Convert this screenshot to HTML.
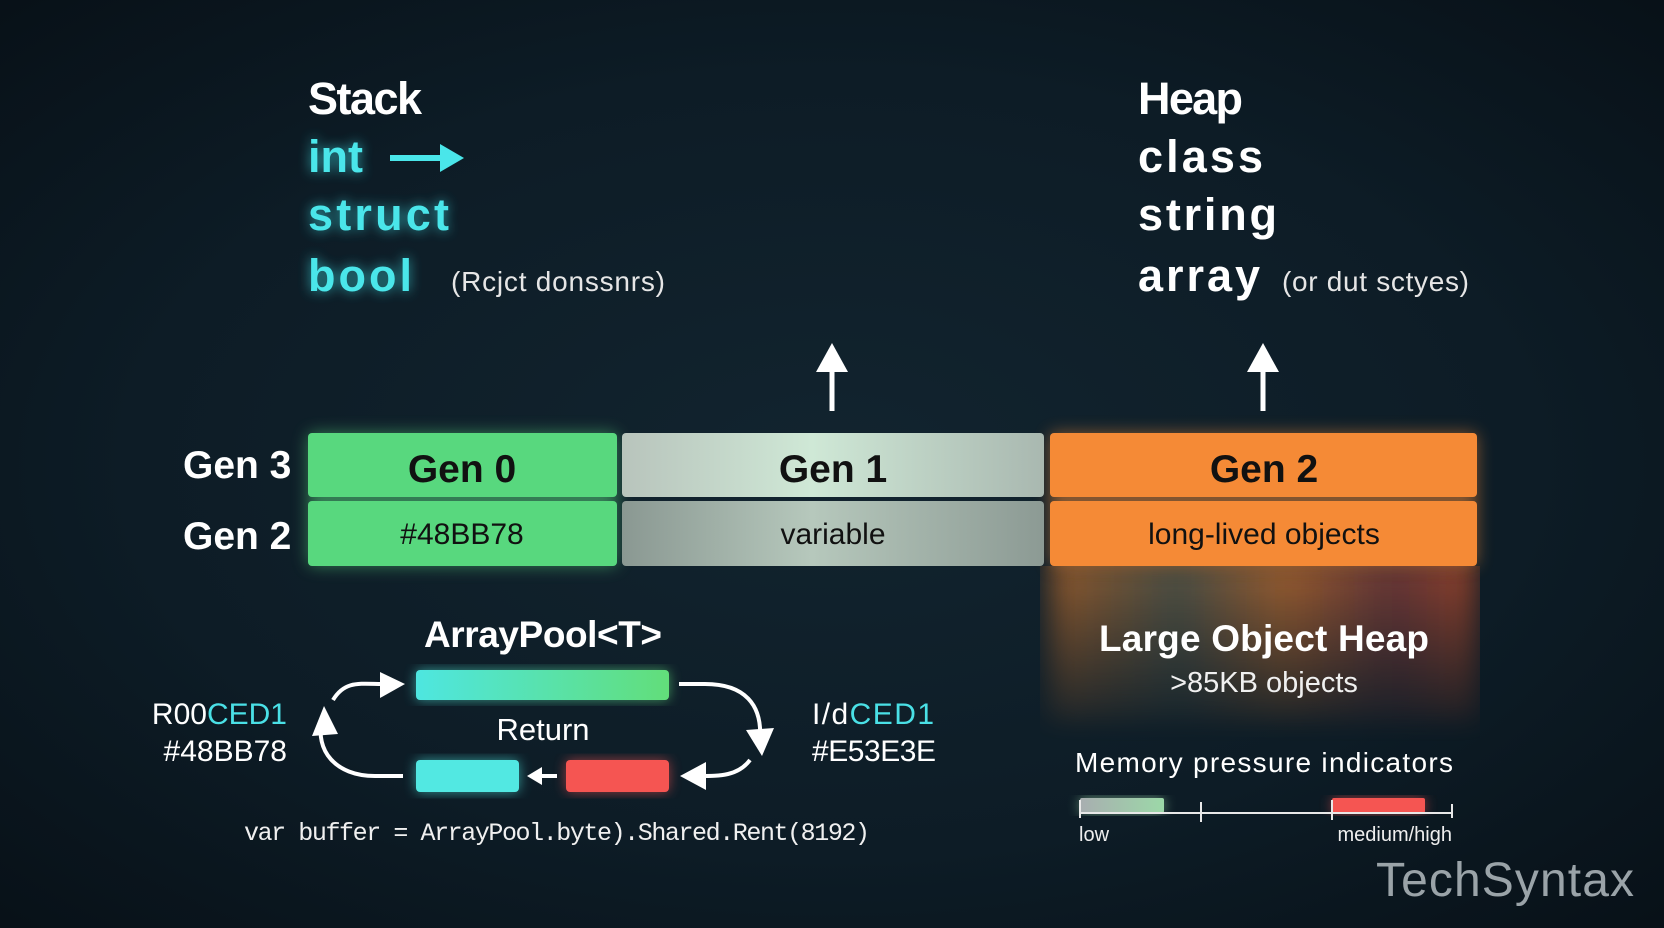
<!DOCTYPE html>
<html><head><meta charset="utf-8"><style>
html,body{margin:0;padding:0;background:#0c1a24;}
body{width:1664px;height:928px;overflow:hidden;}
svg{display:block}
.s{font-family:"Liberation Sans",sans-serif;}
.m{font-family:"Liberation Mono",monospace;}
</style></head><body>
<svg width="1664" height="928" viewBox="0 0 1664 928" xmlns="http://www.w3.org/2000/svg">
<defs>
<radialGradient id="bg" cx="50%" cy="50%" r="70%">
<stop offset="0" stop-color="#12242f"/><stop offset="0.6" stop-color="#0d1c26"/><stop offset="1" stop-color="#081118"/>
</radialGradient>
<linearGradient id="g1" x1="0" x2="1"><stop offset="0" stop-color="#b8c4bc"/><stop offset="0.45" stop-color="#cfe8d6"/><stop offset="1" stop-color="#a9b8b0"/></linearGradient>
<linearGradient id="g1b" x1="0" x2="1"><stop offset="0" stop-color="#8a9892"/><stop offset="0.45" stop-color="#b6c8bc"/><stop offset="1" stop-color="#8c9a94"/></linearGradient>
<linearGradient id="pool" x1="0" x2="1"><stop offset="0" stop-color="#4ee6e0"/><stop offset="1" stop-color="#62de7a"/></linearGradient>
<linearGradient id="loh" x1="0" x2="1"><stop offset="0" stop-color="#b0652a"/><stop offset="0.3" stop-color="#5a5a4a"/><stop offset="0.55" stop-color="#b86a30"/><stop offset="0.8" stop-color="#7a3b3a"/><stop offset="1" stop-color="#b04a2a"/></linearGradient>
<linearGradient id="lohv" x1="0" y1="0" x2="0" y2="1"><stop offset="0" stop-color="#fff" stop-opacity="1"/><stop offset="1" stop-color="#fff" stop-opacity="0"/></linearGradient>
<mask id="lohm"><rect x="1040" y="566" width="440" height="180" fill="url(#lohv)"/></mask>
<linearGradient id="low" x1="0" x2="1"><stop offset="0" stop-color="#a8aeb0"/><stop offset="1" stop-color="#9cd8a8"/></linearGradient>
<filter id="glow" x="-30%" y="-60%" width="160%" height="220%"><feGaussianBlur stdDeviation="8"/></filter>
<filter id="tglow" x="-20%" y="-20%" width="140%" height="140%"><feGaussianBlur stdDeviation="6"/></filter>
<filter id="blur" x="-10%" y="-20%" width="120%" height="140%"><feGaussianBlur stdDeviation="14"/></filter>
</defs>
<rect width="1664" height="928" fill="url(#bg)"/>

<g class="s" font-weight="bold" font-size="45">
<text x="308" y="114" fill="#ffffff" textLength="114">Stack</text>
<g fill="#3ee0e6" filter="url(#tglow)" opacity="0.7">
<text x="308" y="172">int</text><text x="308" y="230" textLength="141">struct</text><text x="308" y="291" textLength="104">bool</text>
</g>
<g fill="#4ae6ea">
<text x="308" y="172">int</text><text x="308" y="230" textLength="141">struct</text><text x="308" y="291" textLength="104">bool</text>
</g>
<text x="1138" y="114" fill="#fff" textLength="105">Heap</text>
<text x="1138" y="172" fill="#fff" textLength="125">class</text>
<text x="1138" y="230" fill="#fff" textLength="139">string</text>
<text x="1138" y="291" fill="#fff" textLength="122">array</text>
</g>
<path d="M390 158 H448" stroke="#4ae6ea" stroke-width="6"/>
<path d="M440 144 L464 158 L440 172z" fill="#4ae6ea"/>
<text class="s" x="451" y="291" font-size="28" fill="#e6e6e6" textLength="214">(Rcjct donssnrs)</text>
<text class="s" x="1282" y="291" font-size="28" fill="#e6e6e6" textLength="187">(or dut sctyes)</text>

<path d="M832 411 V362" stroke="#fff" stroke-width="5"/><path d="M816 372 L832 343 L848 372z" fill="#fff"/>
<path d="M1263 411 V362" stroke="#fff" stroke-width="5"/><path d="M1247 372 L1263 343 L1279 372z" fill="#fff"/>

<rect x="1050" y="560" width="427" height="170" fill="url(#loh)" filter="url(#blur)" mask="url(#lohm)" opacity="0.85"/>

<rect x="308" y="433" width="309" height="133" rx="5" fill="#58d87e" filter="url(#glow)" opacity="0.5"/>
<rect x="1050" y="433" width="427" height="133" rx="5" fill="#f58a36" filter="url(#glow)" opacity="0.5"/>
<rect x="308" y="433" width="309" height="64" rx="4" fill="#58d87e"/>
<rect x="308" y="501" width="309" height="65" rx="4" fill="#58d87e"/>
<rect x="622" y="433" width="422" height="64" rx="4" fill="url(#g1)"/>
<rect x="622" y="501" width="422" height="65" rx="4" fill="url(#g1b)"/>
<rect x="1050" y="433" width="427" height="64" rx="4" fill="#f58a36"/>
<rect x="1050" y="501" width="427" height="65" rx="4" fill="#f58a36"/>
<g class="s" font-weight="bold" font-size="39" text-anchor="middle" fill="#111">
<text x="462" y="482">Gen 0</text><text x="833" y="482">Gen 1</text><text x="1264" y="482">Gen 2</text>
</g>
<g class="s" font-size="30" text-anchor="middle" fill="#111">
<text x="462" y="544">#48BB78</text><text x="833" y="544">variable</text><text x="1264" y="544">long-lived objects</text>
</g>
<g class="s" font-weight="bold" font-size="39" fill="#fff">
<text x="183" y="478">Gen 3</text><text x="183" y="549">Gen 2</text>
</g>

<text class="s" x="1264" y="651" text-anchor="middle" font-size="37" font-weight="bold" fill="#fff" textLength="330">Large Object Heap</text>
<text class="s" x="1264" y="692" text-anchor="middle" font-size="29" fill="#f0f0f0">&gt;85KB objects</text>
<text class="s" x="1264" y="772" text-anchor="middle" font-size="28" fill="#fff" textLength="378">Memory pressure indicators</text>
<rect x="1080" y="798" width="84" height="15" rx="2" fill="#9cd8a8" filter="url(#tglow)" opacity="0.6"/>
<rect x="1080" y="798" width="84" height="15" rx="2" fill="url(#low)"/>
<rect x="1332" y="798" width="93" height="15" rx="2" fill="#f05050" filter="url(#tglow)" opacity="0.6"/>
<rect x="1332" y="798" width="93" height="15" rx="2" fill="#f55552"/>
<path d="M1080 813 H1452 M1080 800 V818 M1201 802 V822 M1332 800 V820 M1452 804 V818" stroke="#e8e8e8" stroke-width="2" fill="none"/>
<text class="s" x="1079" y="841" font-size="20" fill="#eee">low</text>
<text class="s" x="1452" y="841" font-size="20" fill="#eee" text-anchor="end">medium/high</text>

<text class="s" x="543" y="647" text-anchor="middle" font-size="37" font-weight="bold" fill="#fff" textLength="238">ArrayPool&lt;T&gt;</text>
<rect x="416" y="670" width="253" height="30" rx="4" fill="url(#pool)" filter="url(#tglow)" opacity="0.6"/>
<rect x="416" y="670" width="253" height="30" rx="4" fill="url(#pool)"/>
<text class="s" x="543" y="740" text-anchor="middle" font-size="31" fill="#fff">Return</text>
<rect x="416" y="760" width="103" height="32" rx="4" fill="#4ee6e0" filter="url(#tglow)" opacity="0.6"/>
<rect x="416" y="760" width="103" height="32" rx="4" fill="#52e8e2"/>
<rect x="566" y="760" width="103" height="32" rx="4" fill="#f05050" filter="url(#tglow)" opacity="0.6"/>
<rect x="566" y="760" width="103" height="32" rx="4" fill="#f55552"/>
<path d="M557 776 H538" stroke="#fff" stroke-width="4"/><path d="M542 767 L527 776 L542 785z" fill="#fff"/>
<g stroke="#fff" stroke-width="4" fill="none">
<path d="M403 776 H375 C335 776 315 750 322 720"/>
<path d="M333 700 C345 680 360 684 385 684"/>
<path d="M679 684 H705 C745 684 762 705 760 738"/>
<path d="M750 760 C738 776 720 776 700 776"/>
</g>
<path d="M312 736 L324 706 L338 734z" fill="#fff"/>
<path d="M380 672 L405 684 L380 698z" fill="#fff"/>
<path d="M746 730 L762 756 L774 728z" fill="#fff"/>
<path d="M706 762 L680 776 L706 790z" fill="#fff"/>

<g class="s" font-size="30">
<text x="287" y="724" text-anchor="end"><tspan fill="#fff">R00</tspan><tspan fill="#4ae0e6">CED1</tspan></text>
<text x="287" y="761" text-anchor="end" fill="#fff">#48BB78</text>
<text x="812" y="724" textLength="122"><tspan fill="#fff">I/d</tspan><tspan fill="#4ae0e6">CED1</tspan></text>
<text x="812" y="761" fill="#fff" textLength="124">#E53E3E</text>
</g>
<text class="m" x="244" y="840" font-size="25" fill="#f0f0f0" textLength="626">var buffer = ArrayPool.byte).Shared.Rent(8192)</text>

<text class="s" x="1376" y="896" font-size="48" fill="#9aa3a8" textLength="258">TechSyntax</text>
</svg>
</body></html>
